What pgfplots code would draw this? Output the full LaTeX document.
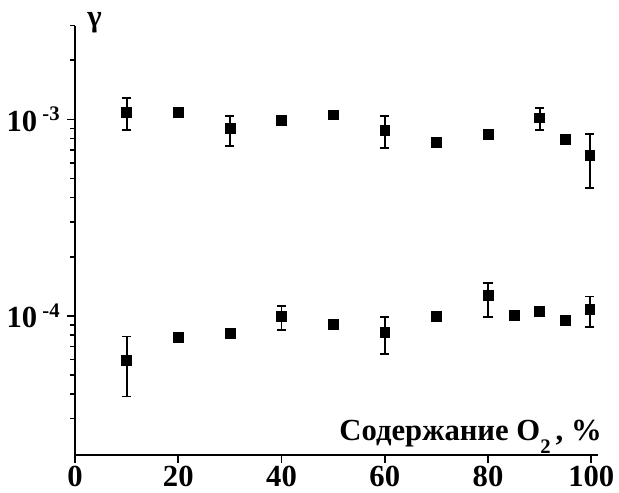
\documentclass[border=0pt]{standalone}
\usepackage{fontspec}
\setmainfont{Liberation Serif}
\usepackage{pgfplots}
\pgfplotsset{compat=1.18}

\newcommand{\lblfont}{\fontsize{23}{26}\selectfont\bfseries}
\newcommand{\expo}[1]{\raisebox{8pt}{\fontsize{15.5}{15.5}\selectfont\bfseries #1}}

\begin{document}
\begin{tikzpicture}
\begin{axis}[
    at={(0,0)}, anchor=south west,
    scale only axis,
    width=392.25pt, height=322.1pt,
    ymode=log,
    xmin=0, xmax=101.3,
    ymin=1.96e-5, ymax=3e-3,
    axis x line*=bottom, axis y line*=left,
    axis line style={line width=1.4pt},
    tick align=outside,
    major tick length=6pt, minor tick length=3.75pt,
    tick style={line width=1.2pt, black},
    xtick={0,20,40,60,80,100},
    xticklabels={0,20,40,60,80,100},
    ytick={1e-4,1e-3},
    yticklabels={10\,\expo{-4},10\,\expo{-3}},
    minor ytick={3e-5,4e-5,5e-5,6e-5,7e-5,8e-5,9e-5,2e-4,3e-4,4e-4,5e-4,6e-4,7e-4,8e-4,9e-4,2e-3,3e-3},
    tick label style={font=\lblfont},
    xticklabel style={yshift=1.5pt},
    yticklabel style={xshift=-2pt},
    clip=false,
    pt/.style={only marks, mark=square*, black, mark size=3.7pt, mark options={fill=black, draw=black}},
    eb/.style={pt, error bars/.cd, y dir=both, y explicit,
        error bar style={line width=1.4pt, black},
        error mark options={rotate=90, mark size=3.4pt, line width=1.4pt, black}},
]
% points with error bars, upper series
\addplot[eb] coordinates {
    (10,1.085e-3) += (0,2.03e-4) -= (0,2.03e-4)
    (30,9.00e-4)  += (0,1.43e-4) -= (0,1.69e-4)
    (60,8.82e-4)  += (0,1.61e-4) -= (0,1.70e-4)
    (90,1.019e-3) += (0,1.18e-4) -= (0,1.37e-4)
    (99.7,6.58e-4) += (0,1.84e-4) -= (0,2.12e-4)
};
% points without error bars, upper series
\addplot[pt] coordinates {
    (20,1.089e-3) (40,9.92e-4) (50,1.055e-3)
    (70,7.67e-4) (80,8.42e-4) (95,7.94e-4)
};
% points with error bars, lower series
\addplot[eb] coordinates {
    (10,5.93e-5)  += (0,1.92e-5) -= (0,2.04e-5)
    (40,9.92e-5)  += (0,1.32e-5) -= (0,1.43e-5)
    (60,8.26e-5)  += (0,1.66e-5) -= (0,1.85e-5)
    (80,1.268e-4) += (0,2.09e-5) -= (0,2.76e-5)
    (99.7,1.082e-4) += (0,1.72e-5) -= (0,2.00e-5)
};
% points without error bars, lower series
\addplot[pt] coordinates {
    (20,7.76e-5) (30,8.17e-5) (50,9.07e-5)
    (70,9.92e-5) (85,1.012e-4) (90,1.056e-4) (95,9.51e-5)
};
\node[anchor=base east, inner sep=0pt, font=\lblfont] at (axis description cs:1,0)
    [xshift=3pt, yshift=11pt]
    {Содержание O\raisebox{-9.5pt}{\fontsize{15.5}{15.5}\selectfont\bfseries 2}\,, \%};
\node[anchor=base west, inner sep=0pt, font=\lblfont] at (axis description cs:0,1)
    [xshift=9pt, yshift=-0.75pt] {γ};
\end{axis}
\pgfresetboundingbox
\path (-56.25pt,-28.5pt) rectangle (408pt,341.25pt);
\end{tikzpicture}
\end{document}
